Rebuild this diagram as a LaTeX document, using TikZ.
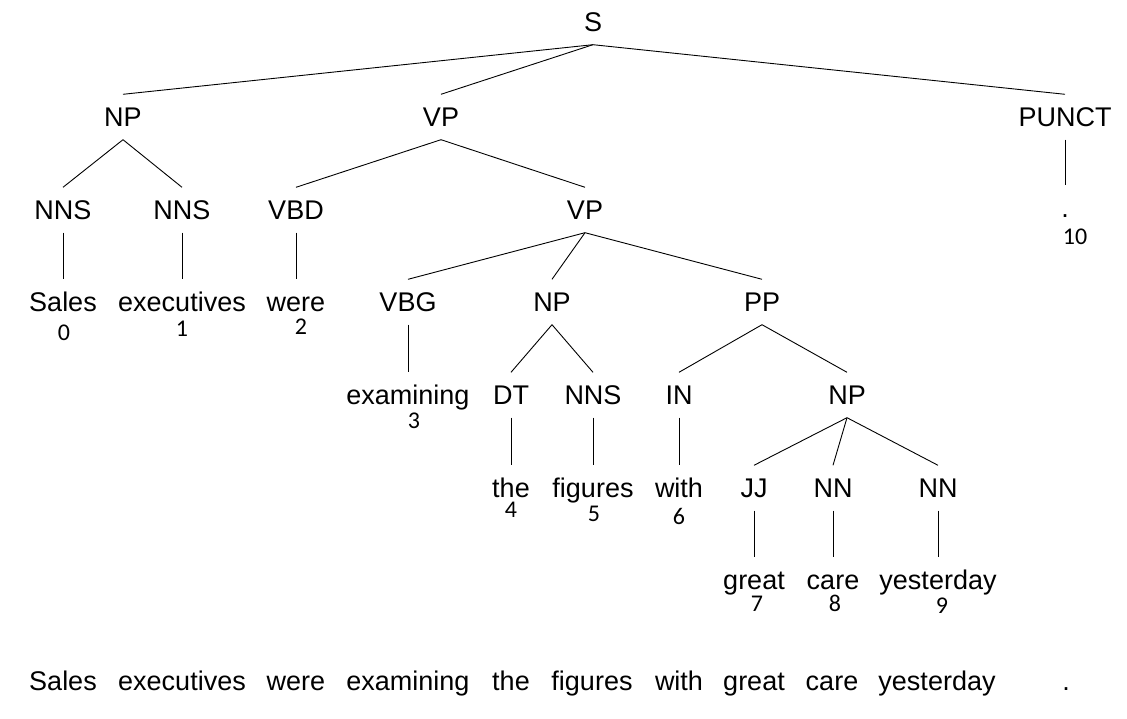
\documentclass[tikz,border=0pt]{standalone}
\usepackage{fontspec}
\setmainfont{Liberation Sans}
\newfontfamily\numfont{Carlito}
\begin{document}
\begin{tikzpicture}[x=1pt,y=-1pt,
  lab/.style={font=\fontsize{27}{30}\selectfont, inner sep=0pt, text height=19.5pt, text depth=0pt, minimum height=45pt},
  idx/.style={font=\numfont\fontsize{24}{26}\selectfont, inner sep=0pt, text height=15.5pt, text depth=0pt},
  edge/.style={draw=black, line width=0.9pt}]
\useasboundingbox[fill=white] (0,0) rectangle (1127,719);
% level 0
\node[lab] (S) at (593,22) {S};
% level 1
\node[lab] (NPa) at (123,117) {NP};
\node[lab] (VPa) at (441,117) {VP};
\node[lab] (PUNCT) at (1065,117) {PUNCT};
% level 2
\node[lab] (NNSa) at (63,210) {NNS};
\node[lab] (NNSb) at (182,210) {NNS};
\node[lab] (VBD) at (296,210) {VBD};
\node[lab] (VPb) at (585,210) {VP};
\node[lab] (dot) at (1065,208) {.};
% level 3
\node[lab] (Sales) at (63,302) {Sales};
\node[lab] (executives) at (182,302) {executives};
\node[lab] (were) at (296,302) {were};
\node[lab] (VBG) at (408,302) {VBG};
\node[lab] (NPb) at (552,302) {NP};
\node[lab] (PP) at (762,302) {PP};
% level 4
\node[lab] (examining) at (408,395) {examining};
\node[lab] (DT) at (511,395) {DT};
\node[lab] (NNSc) at (593,395) {NNS};
\node[lab] (IN) at (679,395) {IN};
\node[lab] (NPc) at (847,395) {NP};
% level 5
\node[lab] (the) at (511,488) {the};
\node[lab] (figures) at (593,488) {figures};
\node[lab] (with) at (679,488) {with};
\node[lab] (JJ) at (754,488) {JJ};
\node[lab] (NNa) at (833,488) {NN};
\node[lab] (NNb) at (938,488) {NN};
% level 6
\node[lab] (great) at (754,580) {great};
\node[lab] (care) at (833,580) {care};
\node[lab] (yesterday) at (938,580) {yesterday};
% indices
\node[idx] (i0) at (64,333) {0};
\node[idx] (i1) at (182,329) {1};
\node[idx] (i2) at (301,327) {2};
\node[idx] (i3) at (414,421) {3};
\node[idx] (i4) at (511,510) {4};
\node[idx] (i5) at (594,514) {5};
\node[idx] (i6) at (679,517) {6};
\node[idx] (i7) at (757,604) {7};
\node[idx] (i8) at (835,604) {8};
\node[idx] (i9) at (942,606) {9};
\node[idx] (i10) at (1075,237) {10};
% edges
\path[edge] (S.south) -- (NPa.north);
\path[edge] (S.south) -- (VPa.north);
\path[edge] (S.south) -- (PUNCT.north);
\path[edge] (NPa.south) -- (NNSa.north);
\path[edge] (NPa.south) -- (NNSb.north);
\path[edge] (VPa.south) -- (VBD.north);
\path[edge] (VPa.south) -- (VPb.north);
\path[edge] (PUNCT.south) -- (PUNCT.south |- dot.north);
\path[edge] (NNSa.south) -- (Sales.north);
\path[edge] (NNSb.south) -- (executives.north);
\path[edge] (VBD.south) -- (were.north);
\path[edge] (VPb.south) -- (VBG.north);
\path[edge] (VPb.south) -- (NPb.north);
\path[edge] (VPb.south) -- (PP.north);
\path[edge] (VBG.south) -- (examining.north);
\path[edge] (NPb.south) -- (DT.north);
\path[edge] (NPb.south) -- (NNSc.north);
\path[edge] (PP.south) -- (IN.north);
\path[edge] (PP.south) -- (NPc.north);
\path[edge] (DT.south) -- (the.north);
\path[edge] (NNSc.south) -- (figures.north);
\path[edge] (IN.south) -- (with.north);
\path[edge] (NPc.south) -- (JJ.north);
\path[edge] (NPc.south) -- (NNa.north);
\path[edge] (NPc.south) -- (NNb.north);
\path[edge] (JJ.south) -- (great.north);
\path[edge] (NNa.south) -- (care.north);
\path[edge] (NNb.south) -- (yesterday.north);
% sentence
\node[lab] (w0) at (63,681) {Sales};
\node[lab] (w1) at (182,681) {executives};
\node[lab] (w2) at (296,681) {were};
\node[lab] (w3) at (408,681) {examining};
\node[lab] (w4) at (511,681) {the};
\node[lab] (w5) at (592,681) {figures};
\node[lab] (w6) at (679,681) {with};
\node[lab] (w7) at (754,681) {great};
\node[lab] (w8) at (832,681) {care};
\node[lab] (w9) at (937,681) {yesterday};
\node[lab] (w10) at (1066,681) {.};
\end{tikzpicture}
\end{document}
